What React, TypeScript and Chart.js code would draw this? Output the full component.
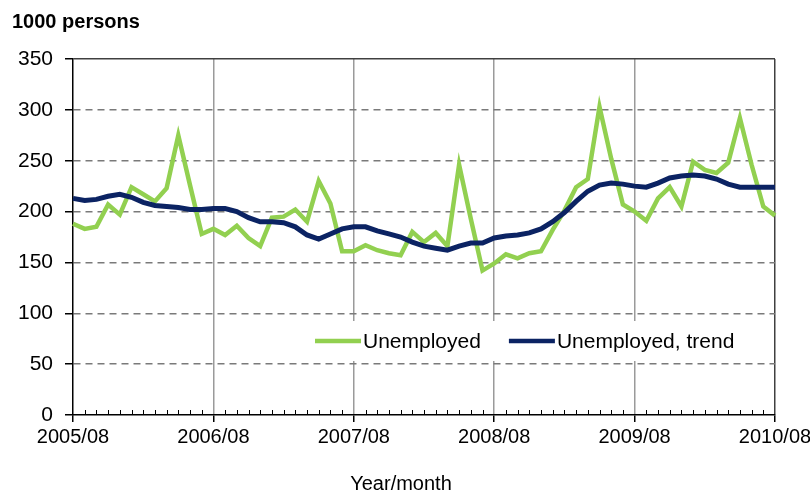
import React, { useEffect, useRef } from 'react';
import { Chart, registerables } from 'chart.js';

Chart.register(...registerables);

// Categories: months 2005/08 .. 2010/08
const months: string[] = [
  '2005/08', '2005/09', '2005/10', '2005/11', '2005/12', '2006/01', '2006/02', '2006/03', '2006/04', '2006/05', '2006/06', '2006/07',
  '2006/08', '2006/09', '2006/10', '2006/11', '2006/12', '2007/01', '2007/02', '2007/03', '2007/04', '2007/05', '2007/06', '2007/07',
  '2007/08', '2007/09', '2007/10', '2007/11', '2007/12', '2008/01', '2008/02', '2008/03', '2008/04', '2008/05', '2008/06', '2008/07',
  '2008/08', '2008/09', '2008/10', '2008/11', '2008/12', '2009/01', '2009/02', '2009/03', '2009/04', '2009/05', '2009/06', '2009/07',
  '2009/08', '2009/09', '2009/10', '2009/11', '2009/12', '2010/01', '2010/02', '2010/03', '2010/04', '2010/05', '2010/06', '2010/07',
  '2010/08',
];

// Tick labels shown on the x axis
const majorTicks: string[] = ['2005/08', '2006/08', '2007/08', '2008/08', '2009/08', '2010/08'];

// Series (1000 persons)
const unemployed: number[] = [
  188, 183, 185, 207, 197, 224, 217, 210, 223, 275, 226, 178,
  183, 177, 186, 174, 166, 194, 195, 202, 190, 230, 208, 161,
  161, 167, 162, 159, 157, 180, 170, 179, 166, 246, 193, 142,
  149, 158, 154, 159, 161, 182, 201, 224, 232, 303, 252, 207,
  200, 191, 213, 224, 205, 249, 241, 238, 248, 292, 246, 205,
  196,
];

const unemployedTrend: number[] = [
  213, 211, 212, 215, 217, 214, 209, 206, 205, 204, 202, 202,
  203, 203, 200, 194, 190, 190, 189, 185, 177, 173, 178, 183,
  185, 185, 181, 178, 175, 170, 166, 164, 162, 166, 169, 169,
  174, 176, 177, 179, 183, 190, 199, 210, 220, 226, 228, 227,
  225, 224, 228, 233, 235, 236, 235, 232, 227, 224, 224, 224,
  224,
];

const seriesLabels: string[] = ['Unemployed', 'Unemployed, trend'];
const seriesColors: string[] = ['#92D050', '#0B2363'];

const yTitle = '1000 persons';
const xTitle = 'Year/month';

const FONT = "'Liberation Sans', Arial, sans-serif";

const decorPlugin = {
  id: 'decor',
  beforeDatasetsDraw(chart: any) {
    const ctx = chart.ctx as CanvasRenderingContext2D;
    const xs = chart.scales.x;
    const area = chart.chartArea;
    ctx.save();
    // minor month ticks pointing up into the plot
    ctx.strokeStyle = '#000';
    ctx.lineWidth = 1;
    for (let i = 0; i < months.length; i++) {
      if (majorTicks.includes(months[i])) continue;
      const px = Math.round(xs.getPixelForValue(i)) + 0.5;
      ctx.beginPath();
      ctx.moveTo(px, area.bottom);
      ctx.lineTo(px, area.bottom - 5);
      ctx.stroke();
    }
    // legend box inside plot
    ctx.fillStyle = '#ffffff';
    ctx.fillRect(308, 321, 440, 40);
    ctx.font = `21px ${FONT}`;
    ctx.textBaseline = 'middle';
    ctx.textAlign = 'left';
    let x = 315;
    const y = 341;
    for (let i = 0; i < seriesLabels.length; i++) {
      ctx.strokeStyle = seriesColors[i];
      ctx.lineWidth = 4.5;
      ctx.beginPath();
      ctx.moveTo(x, y);
      ctx.lineTo(x + 46, y);
      ctx.stroke();
      ctx.fillStyle = '#000';
      ctx.fillText(seriesLabels[i], x + 48, y + 1);
      x = x + 48 + ctx.measureText(seriesLabels[i]).width + 28;
    }
    ctx.restore();
  },
  afterDraw(chart: any) {
    const ctx = chart.ctx as CanvasRenderingContext2D;
    ctx.save();
    ctx.font = `20px ${FONT}`;
    ctx.fillStyle = '#000';
    ctx.textAlign = 'center';
    ctx.textBaseline = 'middle';
    ctx.fillText(xTitle, 401, 484);
    ctx.restore();
  },
};

export default function App() {
  const ref = useRef<HTMLCanvasElement | null>(null);

  useEffect(() => {
    if (!ref.current) return;
    Chart.defaults.font.family = FONT;
    const chart = new Chart(ref.current, {
      type: 'line',
      data: {
        labels: months,
        datasets: [
          {
            label: seriesLabels[0],
            data: unemployed,
            borderColor: seriesColors[0],
            backgroundColor: seriesColors[0],
            borderWidth: 4.5,
            pointRadius: 0,
            tension: 0,
            order: 1,
          },
          {
            label: seriesLabels[1],
            data: unemployedTrend,
            borderColor: seriesColors[1],
            backgroundColor: seriesColors[1],
            borderWidth: 5,
            pointRadius: 0,
            tension: 0,
            order: 0,
          },
        ],
      },
      options: {
        responsive: false,
        animation: false,
        devicePixelRatio: 1,
        layout: { padding: { left: 12, right: 35, top: 0, bottom: 0 } },
        plugins: {
          legend: { display: false },
          tooltip: { enabled: false },
          title: {
            display: true,
            text: yTitle,
            align: 'start',
            color: '#000',
            font: { size: 20, weight: 'bold', family: FONT },
            padding: { top: 10, bottom: 25 },
          },
        },
        scales: {
          x: {
            type: 'category',
            offset: false,
            afterFit: (s: any) => {
              s.height = 78;
              s.paddingRight = 0;
              s.paddingLeft = 0;
            },
            ticks: {
              autoSkip: false,
              maxRotation: 0,
              minRotation: 0,
              color: '#000',
              padding: 3,
              font: { size: 20, family: FONT },
              callback: (_v: any, idx: number) => (majorTicks.includes(months[idx]) ? months[idx] : ''),
            },
            grid: {
              drawOnChartArea: true,
              color: (c: any) => {
                const lab = months[c.index];
                if (c.index === 0 || !majorTicks.includes(lab)) return 'rgba(0,0,0,0)';
                return c.index === months.length - 1 ? '#404040' : '#9a9a9a';
              },
              lineWidth: 1.5,
              tickLength: 7,
              tickColor: (c: any) => (majorTicks.includes(months[c.index]) ? '#000' : 'rgba(0,0,0,0)'),
              tickWidth: 1.5,
            },
            border: { display: true, color: '#000', width: 1.5 },
          },
          y: {
            min: 0,
            max: 350,
            afterFit: (s: any) => {
              s.width = 61;
            },
            ticks: {
              stepSize: 50,
              color: '#000',
              padding: 12,
              font: { size: 21, family: FONT },
            },
            grid: {
              color: (c: any) => {
                const v = c.tick ? c.tick.value : 0;
                if (v === 0) return 'rgba(0,0,0,0)';
                return v === 350 ? '#404040' : '#7a7a7a';
              },
              lineWidth: 1.5,
              tickLength: 8,
              tickColor: '#000',
              tickWidth: 1.5,
            },
            border: {
              display: true,
              color: '#000',
              width: 1.5,
              dash: (c: any) => (c && c.tick && c.tick.value !== 350 ? [7, 5] : []),
            },
          },
        },
      } as any,
      plugins: [decorPlugin],
    });
    return () => chart.destroy();
  }, []);

  return (
    <div style={{ position: 'absolute', left: 0, top: 0, width: 810, height: 493, background: '#fff' }}>
      <canvas ref={ref} width={810} height={493} style={{ display: 'block' }} />
    </div>
  );
}
